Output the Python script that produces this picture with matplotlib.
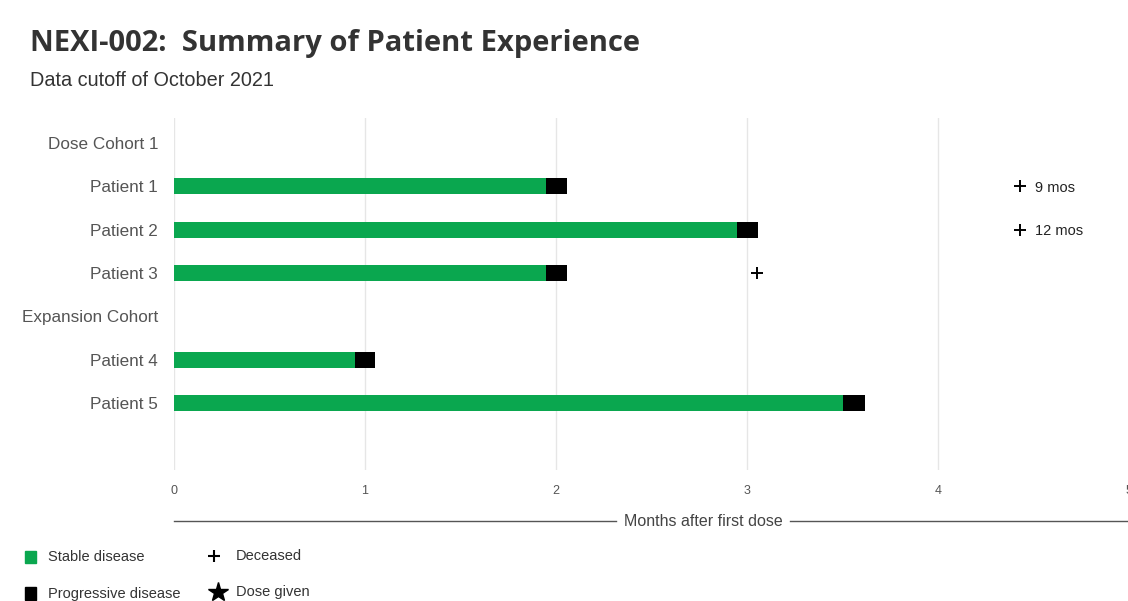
import matplotlib
matplotlib.use("Agg")
import matplotlib.pyplot as plt
from matplotlib.lines import Line2D
from matplotlib.patches import Rectangle

# ---- data ----
row_labels = ["Dose Cohort 1", "Patient 1", "Patient 2", "Patient 3",
              "Expansion Cohort", "Patient 4", "Patient 5"]
patients = ["Patient 1", "Patient 2", "Patient 3", "Patient 4", "Patient 5"]
stable_end = [1.95, 2.95, 1.95, 0.95, 3.50]        # months of stable disease
progressive_end = [2.06, 3.06, 2.06, 1.05, 3.62]   # end of progressive disease
deceased = [9, 12, 3.05, None, None]               # months at death
x_ticks = [0, 1, 2, 3, 4, 5]

GREEN = "#0aa74f"
GRAY_TXT = "#555555"

W, H = 1128, 601
fig = plt.figure(figsize=(W / 100, H / 100), dpi=100)

def fx(px):
    return px / W

def fy(py):
    return 1 - py / H

ax_left, ax_right = 174, 1129
ax_top, ax_bot = 118, 470
ax = fig.add_axes([fx(ax_left), fy(ax_bot), fx(ax_right - ax_left), (ax_bot - ax_top) / H])

row_y = {lab: i for i, lab in enumerate(row_labels)}
step = 43.33
ax.set_ylim(6 + (ax_bot - 403) / step, -(143 - ax_top) / step)
ax.set_xlim(0, 5)

bar_h = 16 / step
xmax = ax.get_xlim()[1]
for p, s, e, d in zip(patients, stable_end, progressive_end, deceased):
    y = row_y[p]
    ax.barh(y, s, height=bar_h, color=GREEN, zorder=3)
    ax.barh(y, e - s, left=s, height=bar_h, color="black", zorder=3)
    if d is not None:
        if d <= xmax:
            ax.plot(d, y, marker="+", color="black", markersize=8, mew=1.4, zorder=4)
        else:
            ax.plot(4.43, y, marker="+", color="black", markersize=8, mew=1.4, zorder=4,
                    clip_on=False)
            ax.text(4.51, y + 0.03, f"{d} mos", fontsize=10.5, va="center", ha="left",
                    color="#222222", family="Liberation Sans")

ax.set_yticks(range(len(row_labels)))
ax.set_yticklabels(row_labels, fontsize=12.3, color=GRAY_TXT, family="Liberation Sans")
ax.set_xticks(x_ticks)
ax.set_xticklabels([str(t) for t in x_ticks], fontsize=9, color=GRAY_TXT,
                   family="Liberation Sans")
ax.tick_params(axis="both", length=0)
ax.tick_params(axis="x", pad=11)
ax.tick_params(axis="y", pad=11.5)
ax.grid(axis="x", color="#e6e6e6", linewidth=1, zorder=0)
for sp in ax.spines.values():
    sp.set_visible(False)

# title & subtitle
fig.text(fx(30), fy(43), "NEXI-002:  Summary of Patient Experience", fontsize=21,
         fontweight="bold", color="#333333", family="Open Sans", va="center", ha="left")
fig.text(fx(30), fy(81), "Data cutoff of October 2021", fontsize=14.3, color="#333333",
         family="Liberation Sans", va="center", ha="left")

# axis title with line
fig.text(fx(703), fy(521), "Months after first dose", fontsize=11.5, color="#444444",
         family="Liberation Sans", va="center", ha="center")
fig.add_artist(Line2D([fx(174), fx(616)], [fy(521), fy(521)], color="#555555", lw=1))
fig.add_artist(Line2D([fx(790), fx(1128)], [fy(521), fy(521)], color="#555555", lw=1))

# legend
fig.add_artist(Rectangle((fx(25), fy(563)), 11 / W, 12 / H, color=GREEN))
fig.text(fx(48), fy(557), "Stable disease", fontsize=10.5, color="#333333",
         family="Liberation Sans", va="center")
fig.add_artist(Rectangle((fx(25), fy(600)), 11 / W, 13 / H, color="black"))
fig.text(fx(48), fy(594), "Progressive disease", fontsize=10.5, color="#333333",
         family="Liberation Sans", va="center")
fig.add_artist(Line2D([fx(214)], [fy(556)], marker="+", color="black", markersize=8, mew=1.5))
fig.text(fx(236), fy(556), "Deceased", fontsize=10.5, color="#333333",
         family="Liberation Sans", va="center")
fig.add_artist(Line2D([fx(218)], [fy(592)], marker="*", color="black", markersize=15))
fig.text(fx(236), fy(592), "Dose given", fontsize=10.5, color="#333333",
         family="Liberation Sans", va="center")

fig.savefig("out.png", dpi=100)
